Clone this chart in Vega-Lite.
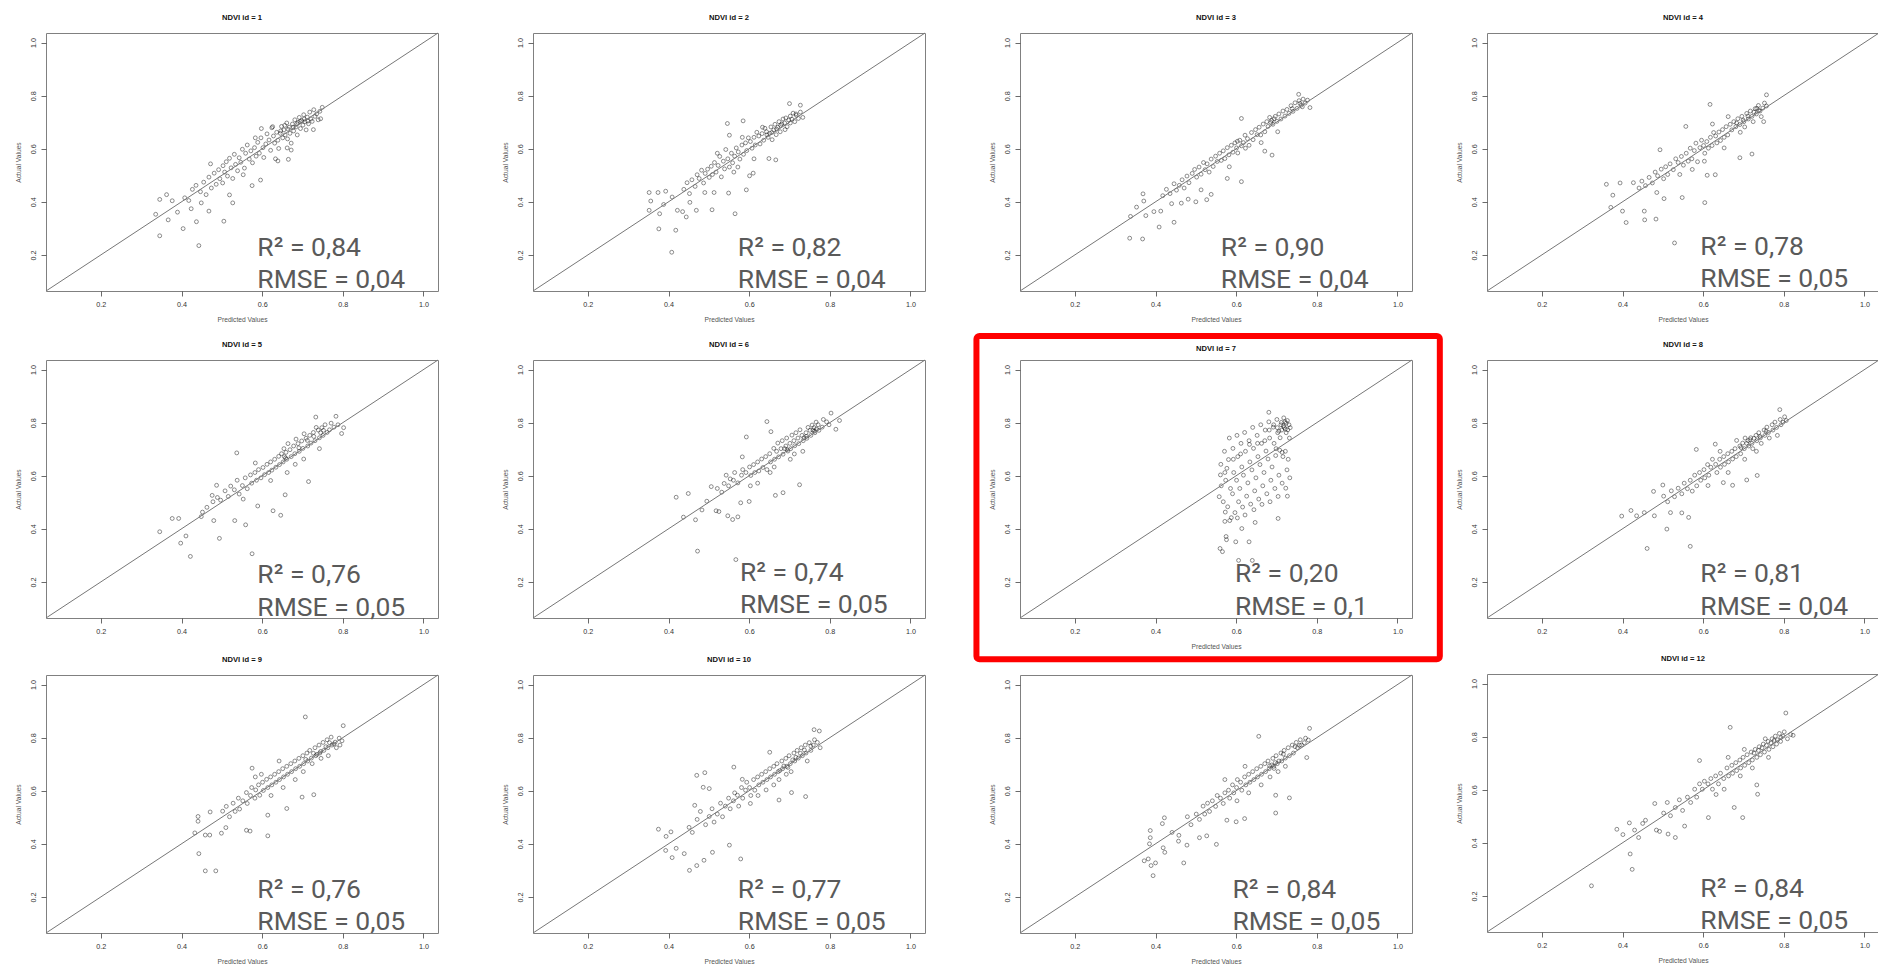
{
"$schema":"https://vega.github.io/schema/vega-lite/v6.json",
"background":"white",
"padding":{"left":14,"top":13,"right":0,"bottom":0},
"config":{
"view":{"stroke":"#808080","strokeWidth":1},
"axis":{"grid":false,"domain":false,"tickColor":"#444","tickSize":5,"tickWidth":0.8,"tickCount":5,"labelFont":"Liberation Sans","labelFontSize":7.2,"labelColor":"#333","labelPadding":4,"labelFlush":false,"labelOverlap":false,"titleFont":"Liberation Sans","titleFontSize":6.7,"titleFontWeight":"normal","titleColor":"#555"},
"axisX":{"titlePadding":9},
"axisY":{"labelAngle":270,"labelAlign":"center","labelBaseline":"bottom","titlePadding":8},
"title":{"font":"Liberation Sans","fontSize":7.6,"fontWeight":"bold","color":"#111","offset":11,"anchor":"middle"},
"point":{"filled":false,"size":15,"color":"#000","strokeWidth":0.9,"strokeOpacity":0.7},
"rule":{"color":"#777","strokeWidth":1},
"text":{"font":"Roboto","fontSize":26.5,"color":"#5a5a5a","align":"left","baseline":"alphabetic"}
},
"datasets":{
"labels":[{"id":1,"r2":"R² = 0,84","rmse":"RMSE = 0,04"},{"id":2,"r2":"R² = 0,82","rmse":"RMSE = 0,04"},{"id":3,"r2":"R² = 0,90","rmse":"RMSE = 0,04"},{"id":4,"r2":"R² = 0,78","rmse":"RMSE = 0,05"},{"id":5,"r2":"R² = 0,76","rmse":"RMSE = 0,05"},{"id":6,"r2":"R² = 0,74","rmse":"RMSE = 0,05"},{"id":7,"r2":"R² = 0,20","rmse":"RMSE = 0,1"},{"id":8,"r2":"R² = 0,81","rmse":"RMSE = 0,04"},{"id":9,"r2":"R² = 0,76","rmse":"RMSE = 0,05"},{"id":10,"r2":"R² = 0,77","rmse":"RMSE = 0,05"},{"id":11,"r2":"R² = 0,84","rmse":"RMSE = 0,05"},{"id":12,"r2":"R² = 0,84","rmse":"RMSE = 0,05"}],
"points":[
{"id":1,"pred":0.336,"actual":0.353},{"id":1,"pred":0.346,"actual":0.272},{"id":1,"pred":0.346,"actual":0.409},{"id":1,"pred":0.363,"actual":0.427},{"id":1,"pred":0.367,"actual":0.332},{"id":1,"pred":0.377,"actual":0.404},{"id":1,"pred":0.39,"actual":0.361},{"id":1,"pred":0.404,"actual":0.299},{"id":1,"pred":0.408,"actual":0.415},{"id":1,"pred":0.424,"actual":0.374},{"id":1,"pred":0.437,"actual":0.325},{"id":1,"pred":0.443,"actual":0.235},{"id":1,"pred":0.449,"actual":0.396},{"id":1,"pred":0.468,"actual":0.365},{"id":1,"pred":0.505,"actual":0.327},{"id":1,"pred":0.519,"actual":0.426},{"id":1,"pred":0.527,"actual":0.396},{"id":1,"pred":0.575,"actual":0.461},{"id":1,"pred":0.596,"actual":0.482},{"id":1,"pred":0.639,"actual":0.554},{"id":1,"pred":0.665,"actual":0.56},{"id":1,"pred":0.672,"actual":0.595},{"id":1,"pred":0.749,"actual":0.756},{"id":1,"pred":0.745,"actual":0.713},{"id":1,"pred":0.727,"actual":0.672},
{"id":1,"pred":0.418,"actual":0.405},{"id":1,"pred":0.427,"actual":0.447},{"id":1,"pred":0.436,"actual":0.462},{"id":1,"pred":0.447,"actual":0.438},{"id":1,"pred":0.455,"actual":0.474},{"id":1,"pred":0.461,"actual":0.427},{"id":1,"pred":0.468,"actual":0.493},{"id":1,"pred":0.474,"actual":0.452},{"id":1,"pred":0.481,"actual":0.508},{"id":1,"pred":0.486,"actual":0.466},{"id":1,"pred":0.492,"actual":0.521},{"id":1,"pred":0.495,"actual":0.487},{"id":1,"pred":0.503,"actual":0.536},{"id":1,"pred":0.507,"actual":0.512},{"id":1,"pred":0.511,"actual":0.551},{"id":1,"pred":0.514,"actual":0.497},{"id":1,"pred":0.519,"actual":0.564},{"id":1,"pred":0.523,"actual":0.528},{"id":1,"pred":0.527,"actual":0.488},{"id":1,"pred":0.531,"actual":0.579},{"id":1,"pred":0.534,"actual":0.541},{"id":1,"pred":0.539,"actual":0.517},{"id":1,"pred":0.543,"actual":0.566},{"id":1,"pred":0.547,"actual":0.549},{"id":1,"pred":0.551,"actual":0.598},{"id":1,"pred":0.556,"actual":0.527},{"id":1,"pred":0.559,"actual":0.583},{"id":1,"pred":0.563,"actual":0.614},{"id":1,"pred":0.568,"actual":0.561},{"id":1,"pred":0.572,"actual":0.592},{"id":1,"pred":0.576,"actual":0.547},{"id":1,"pred":0.581,"actual":0.604},{"id":1,"pred":0.585,"actual":0.572},{"id":1,"pred":0.589,"actual":0.624},{"id":1,"pred":0.593,"actual":0.583},{"id":1,"pred":0.597,"actual":0.641},{"id":1,"pred":0.602,"actual":0.604},{"id":1,"pred":0.604,"actual":0.567},{"id":1,"pred":0.609,"actual":0.618},{"id":1,"pred":0.612,"actual":0.656},{"id":1,"pred":0.617,"actual":0.633},{"id":1,"pred":0.621,"actual":0.594},{"id":1,"pred":0.624,"actual":0.679},{"id":1,"pred":0.628,"actual":0.648},{"id":1,"pred":0.631,"actual":0.621},{"id":1,"pred":0.636,"actual":0.662},{"id":1,"pred":0.639,"actual":0.632},{"id":1,"pred":0.641,"actual":0.601},{"id":1,"pred":0.645,"actual":0.658},{"id":1,"pred":0.648,"actual":0.684},{"id":1,"pred":0.651,"actual":0.641},{"id":1,"pred":0.654,"actual":0.671},{"id":1,"pred":0.657,"actual":0.652},{"id":1,"pred":0.661,"actual":0.697},{"id":1,"pred":0.663,"actual":0.637},{"id":1,"pred":0.667,"actual":0.681},{"id":1,"pred":0.669,"actual":0.658},{"id":1,"pred":0.672,"actual":0.621},{"id":1,"pred":0.675,"actual":0.693},{"id":1,"pred":0.678,"actual":0.667},{"id":1,"pred":0.681,"actual":0.709},{"id":1,"pred":0.684,"actual":0.682},{"id":1,"pred":0.687,"actual":0.652},{"id":1,"pred":0.689,"actual":0.699},{"id":1,"pred":0.692,"actual":0.718},{"id":1,"pred":0.695,"actual":0.676},{"id":1,"pred":0.698,"actual":0.706},{"id":1,"pred":0.701,"actual":0.689},{"id":1,"pred":0.703,"actual":0.728},{"id":1,"pred":0.706,"actual":0.702},{"id":1,"pred":0.709,"actual":0.671},{"id":1,"pred":0.712,"actual":0.719},{"id":1,"pred":0.715,"actual":0.694},{"id":1,"pred":0.718,"actual":0.738},{"id":1,"pred":0.721,"actual":0.712},{"id":1,"pred":0.724,"actual":0.703},{"id":1,"pred":0.728,"actual":0.747},{"id":1,"pred":0.731,"actual":0.722},{"id":1,"pred":0.735,"actual":0.731},{"id":1,"pred":0.739,"actual":0.709},{"id":1,"pred":0.743,"actual":0.741},{"id":1,"pred":0.626,"actual":0.683},{"id":1,"pred":0.583,"actual":0.641},{"id":1,"pred":0.553,"actual":0.502},{"id":1,"pred":0.472,"actual":0.543},{"id":1,"pred":0.502,"actual":0.471},{"id":1,"pred":0.633,"actual":0.562},{"id":1,"pred":0.662,"actual":0.603},{"id":1,"pred":0.598,"actual":0.676},{"id":1,"pred":0.656,"actual":0.688},{"id":1,"pred":0.664,"actual":0.674},{"id":1,"pred":0.686,"actual":0.694},{"id":1,"pred":0.694,"actual":0.703},{"id":1,"pred":0.704,"actual":0.712},{"id":1,"pred":0.677,"actual":0.681},{"id":1,"pred":0.713,"actual":0.704},{"id":1,"pred":0.646,"actual":0.667},
{"id":2,"pred":0.352,"actual":0.435},{"id":2,"pred":0.352,"actual":0.368},{"id":2,"pred":0.356,"actual":0.403},{"id":2,"pred":0.374,"actual":0.435},{"id":2,"pred":0.376,"actual":0.298},{"id":2,"pred":0.378,"actual":0.355},{"id":2,"pred":0.393,"actual":0.44},{"id":2,"pred":0.388,"actual":0.39},{"id":2,"pred":0.409,"actual":0.418},{"id":2,"pred":0.408,"actual":0.21},{"id":2,"pred":0.418,"actual":0.293},{"id":2,"pred":0.422,"actual":0.368},{"id":2,"pred":0.435,"actual":0.363},{"id":2,"pred":0.444,"actual":0.343},{"id":2,"pred":0.453,"actual":0.398},{"id":2,"pred":0.469,"actual":0.368},{"id":2,"pred":0.49,"actual":0.435},{"id":2,"pred":0.508,"actual":0.37},{"id":2,"pred":0.513,"actual":0.435},{"id":2,"pred":0.549,"actual":0.433},{"id":2,"pred":0.565,"actual":0.355},{"id":2,"pred":0.593,"actual":0.445},{"id":2,"pred":0.601,"actual":0.498},{"id":2,"pred":0.61,"actual":0.508},{"id":2,"pred":0.546,"actual":0.695},{"id":2,"pred":0.551,"actual":0.651},{"id":2,"pred":0.585,"actual":0.705},{"id":2,"pred":0.649,"actual":0.563},{"id":2,"pred":0.666,"actual":0.558},{"id":2,"pred":0.7,"actual":0.77},{"id":2,"pred":0.727,"actual":0.764},{"id":2,"pred":0.733,"actual":0.718},
{"id":2,"pred":0.438,"actual":0.447},{"id":2,"pred":0.446,"actual":0.472},{"id":2,"pred":0.452,"actual":0.431},{"id":2,"pred":0.458,"actual":0.483},{"id":2,"pred":0.466,"actual":0.458},{"id":2,"pred":0.471,"actual":0.502},{"id":2,"pred":0.476,"actual":0.488},{"id":2,"pred":0.482,"actual":0.519},{"id":2,"pred":0.487,"actual":0.471},{"id":2,"pred":0.491,"actual":0.507},{"id":2,"pred":0.497,"actual":0.523},{"id":2,"pred":0.501,"actual":0.492},{"id":2,"pred":0.506,"actual":0.534},{"id":2,"pred":0.509,"actual":0.503},{"id":2,"pred":0.514,"actual":0.548},{"id":2,"pred":0.518,"actual":0.512},{"id":2,"pred":0.523,"actual":0.537},{"id":2,"pred":0.527,"actual":0.571},{"id":2,"pred":0.531,"actual":0.494},{"id":2,"pred":0.536,"actual":0.553},{"id":2,"pred":0.539,"actual":0.524},{"id":2,"pred":0.542,"actual":0.597},{"id":2,"pred":0.547,"actual":0.562},{"id":2,"pred":0.551,"actual":0.531},{"id":2,"pred":0.556,"actual":0.583},{"id":2,"pred":0.559,"actual":0.547},{"id":2,"pred":0.564,"actual":0.572},{"id":2,"pred":0.568,"actual":0.603},{"id":2,"pred":0.573,"actual":0.588},{"id":2,"pred":0.577,"actual":0.561},{"id":2,"pred":0.582,"actual":0.614},{"id":2,"pred":0.586,"actual":0.579},{"id":2,"pred":0.591,"actual":0.622},{"id":2,"pred":0.594,"actual":0.593},{"id":2,"pred":0.598,"actual":0.641},{"id":2,"pred":0.603,"actual":0.627},{"id":2,"pred":0.607,"actual":0.602},{"id":2,"pred":0.612,"actual":0.643},{"id":2,"pred":0.615,"actual":0.614},{"id":2,"pred":0.619,"actual":0.662},{"id":2,"pred":0.624,"actual":0.648},{"id":2,"pred":0.627,"actual":0.618},{"id":2,"pred":0.632,"actual":0.657},{"id":2,"pred":0.636,"actual":0.632},{"id":2,"pred":0.639,"actual":0.677},{"id":2,"pred":0.643,"actual":0.664},{"id":2,"pred":0.647,"actual":0.643},{"id":2,"pred":0.651,"actual":0.658},{"id":2,"pred":0.654,"actual":0.682},{"id":2,"pred":0.657,"actual":0.634},{"id":2,"pred":0.661,"actual":0.671},{"id":2,"pred":0.664,"actual":0.692},{"id":2,"pred":0.667,"actual":0.653},{"id":2,"pred":0.671,"actual":0.681},{"id":2,"pred":0.674,"actual":0.702},{"id":2,"pred":0.677,"actual":0.664},{"id":2,"pred":0.681,"actual":0.693},{"id":2,"pred":0.684,"actual":0.712},{"id":2,"pred":0.688,"actual":0.697},{"id":2,"pred":0.691,"actual":0.716},{"id":2,"pred":0.694,"actual":0.683},{"id":2,"pred":0.698,"actual":0.708},{"id":2,"pred":0.702,"actual":0.723},{"id":2,"pred":0.706,"actual":0.711},{"id":2,"pred":0.709,"actual":0.734},{"id":2,"pred":0.713,"actual":0.702},{"id":2,"pred":0.717,"actual":0.726},{"id":2,"pred":0.722,"actual":0.714},{"id":2,"pred":0.727,"actual":0.738},{"id":2,"pred":0.583,"actual":0.643},{"id":2,"pred":0.562,"actual":0.512},{"id":2,"pred":0.612,"actual":0.562},{"id":2,"pred":0.633,"actual":0.681},{"id":2,"pred":0.521,"actual":0.583},{"id":2,"pred":0.572,"actual":0.531},{"id":2,"pred":0.689,"actual":0.672},{"id":2,"pred":0.656,"actual":0.661},{"id":2,"pred":0.668,"actual":0.674},{"id":2,"pred":0.702,"actual":0.697},{"id":2,"pred":0.644,"actual":0.652},{"id":2,"pred":0.678,"actual":0.688},{"id":2,"pred":0.716,"actual":0.731},
{"id":3,"pred":0.336,"actual":0.263},{"id":3,"pred":0.368,"actual":0.26},{"id":3,"pred":0.338,"actual":0.345},{"id":3,"pred":0.369,"actual":0.43},{"id":3,"pred":0.371,"actual":0.403},{"id":3,"pred":0.376,"actual":0.348},{"id":3,"pred":0.353,"actual":0.38},{"id":3,"pred":0.396,"actual":0.363},{"id":3,"pred":0.409,"actual":0.305},{"id":3,"pred":0.413,"actual":0.365},{"id":3,"pred":0.446,"actual":0.323},{"id":3,"pred":0.44,"actual":0.393},{"id":3,"pred":0.464,"actual":0.395},{"id":3,"pred":0.481,"actual":0.41},{"id":3,"pred":0.5,"actual":0.4},{"id":3,"pred":0.527,"actual":0.408},{"id":3,"pred":0.538,"actual":0.428},{"id":3,"pred":0.513,"actual":0.445},{"id":3,"pred":0.578,"actual":0.488},{"id":3,"pred":0.613,"actual":0.476},{"id":3,"pred":0.613,"actual":0.714},{"id":3,"pred":0.689,"actual":0.576},{"id":3,"pred":0.671,"actual":0.591},{"id":3,"pred":0.755,"actual":0.805},{"id":3,"pred":0.783,"actual":0.755},
{"id":3,"pred":0.418,"actual":0.423},{"id":3,"pred":0.427,"actual":0.447},{"id":3,"pred":0.436,"actual":0.431},{"id":3,"pred":0.446,"actual":0.468},{"id":3,"pred":0.452,"actual":0.444},{"id":3,"pred":0.459,"actual":0.462},{"id":3,"pred":0.466,"actual":0.483},{"id":3,"pred":0.471,"actual":0.452},{"id":3,"pred":0.478,"actual":0.497},{"id":3,"pred":0.483,"actual":0.472},{"id":3,"pred":0.491,"actual":0.507},{"id":3,"pred":0.497,"actual":0.522},{"id":3,"pred":0.502,"actual":0.493},{"id":3,"pred":0.508,"actual":0.531},{"id":3,"pred":0.513,"actual":0.504},{"id":3,"pred":0.519,"actual":0.548},{"id":3,"pred":0.523,"actual":0.521},{"id":3,"pred":0.528,"actual":0.543},{"id":3,"pred":0.533,"actual":0.512},{"id":3,"pred":0.538,"actual":0.561},{"id":3,"pred":0.543,"actual":0.533},{"id":3,"pred":0.549,"actual":0.572},{"id":3,"pred":0.553,"actual":0.552},{"id":3,"pred":0.559,"actual":0.583},{"id":3,"pred":0.563,"actual":0.556},{"id":3,"pred":0.568,"actual":0.592},{"id":3,"pred":0.572,"actual":0.563},{"id":3,"pred":0.578,"actual":0.604},{"id":3,"pred":0.582,"actual":0.577},{"id":3,"pred":0.588,"actual":0.613},{"id":3,"pred":0.592,"actual":0.587},{"id":3,"pred":0.597,"actual":0.622},{"id":3,"pred":0.601,"actual":0.603},{"id":3,"pred":0.604,"actual":0.584},{"id":3,"pred":0.609,"actual":0.632},{"id":3,"pred":0.613,"actual":0.611},{"id":3,"pred":0.618,"actual":0.623},{"id":3,"pred":0.622,"actual":0.651},{"id":3,"pred":0.628,"actual":0.638},{"id":3,"pred":0.632,"actual":0.613},{"id":3,"pred":0.638,"actual":0.661},{"id":3,"pred":0.642,"actual":0.634},{"id":3,"pred":0.648,"actual":0.672},{"id":3,"pred":0.652,"actual":0.653},{"id":3,"pred":0.657,"actual":0.681},{"id":3,"pred":0.661,"actual":0.652},{"id":3,"pred":0.667,"actual":0.693},{"id":3,"pred":0.671,"actual":0.664},{"id":3,"pred":0.676,"actual":0.702},{"id":3,"pred":0.679,"actual":0.684},{"id":3,"pred":0.683,"actual":0.718},{"id":3,"pred":0.688,"actual":0.707},{"id":3,"pred":0.691,"actual":0.692},{"id":3,"pred":0.697,"actual":0.722},{"id":3,"pred":0.701,"actual":0.703},{"id":3,"pred":0.706,"actual":0.731},{"id":3,"pred":0.711,"actual":0.712},{"id":3,"pred":0.716,"actual":0.742},{"id":3,"pred":0.721,"actual":0.723},{"id":3,"pred":0.726,"actual":0.748},{"id":3,"pred":0.731,"actual":0.733},{"id":3,"pred":0.736,"actual":0.762},{"id":3,"pred":0.741,"actual":0.741},{"id":3,"pred":0.746,"actual":0.773},{"id":3,"pred":0.751,"actual":0.752},{"id":3,"pred":0.756,"actual":0.781},{"id":3,"pred":0.761,"actual":0.764},{"id":3,"pred":0.766,"actual":0.787},{"id":3,"pred":0.771,"actual":0.772},{"id":3,"pred":0.777,"actual":0.783},{"id":3,"pred":0.662,"actual":0.623},{"id":3,"pred":0.703,"actual":0.664},{"id":3,"pred":0.583,"actual":0.532},{"id":3,"pred":0.686,"actual":0.699},{"id":3,"pred":0.694,"actual":0.713},{"id":3,"pred":0.739,"actual":0.751},{"id":3,"pred":0.758,"actual":0.771},{"id":3,"pred":0.764,"actual":0.758},{"id":3,"pred":0.623,"actual":0.602},{"id":3,"pred":0.603,"actual":0.628},
{"id":4,"pred":0.36,"actual":0.466},{"id":4,"pred":0.376,"actual":0.425},{"id":4,"pred":0.371,"actual":0.379},{"id":4,"pred":0.394,"actual":0.471},{"id":4,"pred":0.4,"actual":0.365},{"id":4,"pred":0.409,"actual":0.322},{"id":4,"pred":0.427,"actual":0.472},{"id":4,"pred":0.454,"actual":0.365},{"id":4,"pred":0.455,"actual":0.332},{"id":4,"pred":0.483,"actual":0.335},{"id":4,"pred":0.485,"actual":0.435},{"id":4,"pred":0.503,"actual":0.412},{"id":4,"pred":0.529,"actual":0.245},{"id":4,"pred":0.548,"actual":0.416},{"id":4,"pred":0.604,"actual":0.397},{"id":4,"pred":0.493,"actual":0.596},{"id":4,"pred":0.557,"actual":0.684},{"id":4,"pred":0.617,"actual":0.767},{"id":4,"pred":0.61,"actual":0.5},{"id":4,"pred":0.63,"actual":0.502},{"id":4,"pred":0.721,"actual":0.58},{"id":4,"pred":0.691,"actual":0.566},{"id":4,"pred":0.757,"actual":0.803},{"id":4,"pred":0.75,"actual":0.702},
{"id":4,"pred":0.441,"actual":0.452},{"id":4,"pred":0.448,"actual":0.478},{"id":4,"pred":0.457,"actual":0.461},{"id":4,"pred":0.466,"actual":0.492},{"id":4,"pred":0.474,"actual":0.471},{"id":4,"pred":0.481,"actual":0.512},{"id":4,"pred":0.487,"actual":0.498},{"id":4,"pred":0.496,"actual":0.523},{"id":4,"pred":0.502,"actual":0.487},{"id":4,"pred":0.507,"actual":0.532},{"id":4,"pred":0.512,"actual":0.503},{"id":4,"pred":0.518,"actual":0.543},{"id":4,"pred":0.526,"actual":0.521},{"id":4,"pred":0.532,"actual":0.562},{"id":4,"pred":0.538,"actual":0.548},{"id":4,"pred":0.546,"actual":0.571},{"id":4,"pred":0.551,"actual":0.538},{"id":4,"pred":0.558,"actual":0.583},{"id":4,"pred":0.563,"actual":0.553},{"id":4,"pred":0.568,"actual":0.602},{"id":4,"pred":0.572,"actual":0.562},{"id":4,"pred":0.578,"actual":0.593},{"id":4,"pred":0.582,"actual":0.621},{"id":4,"pred":0.586,"actual":0.551},{"id":4,"pred":0.592,"actual":0.604},{"id":4,"pred":0.596,"actual":0.632},{"id":4,"pred":0.601,"actual":0.612},{"id":4,"pred":0.604,"actual":0.583},{"id":4,"pred":0.609,"actual":0.627},{"id":4,"pred":0.613,"actual":0.602},{"id":4,"pred":0.618,"actual":0.643},{"id":4,"pred":0.622,"actual":0.612},{"id":4,"pred":0.626,"actual":0.661},{"id":4,"pred":0.631,"actual":0.648},{"id":4,"pred":0.634,"actual":0.622},{"id":4,"pred":0.639,"actual":0.663},{"id":4,"pred":0.643,"actual":0.631},{"id":4,"pred":0.648,"actual":0.672},{"id":4,"pred":0.652,"actual":0.643},{"id":4,"pred":0.657,"actual":0.683},{"id":4,"pred":0.661,"actual":0.652},{"id":4,"pred":0.667,"actual":0.692},{"id":4,"pred":0.671,"actual":0.671},{"id":4,"pred":0.676,"actual":0.702},{"id":4,"pred":0.681,"actual":0.683},{"id":4,"pred":0.686,"actual":0.713},{"id":4,"pred":0.691,"actual":0.691},{"id":4,"pred":0.696,"actual":0.722},{"id":4,"pred":0.701,"actual":0.702},{"id":4,"pred":0.703,"actual":0.682},{"id":4,"pred":0.708,"actual":0.733},{"id":4,"pred":0.712,"actual":0.712},{"id":4,"pred":0.717,"actual":0.742},{"id":4,"pred":0.721,"actual":0.722},{"id":4,"pred":0.724,"actual":0.702},{"id":4,"pred":0.729,"actual":0.751},{"id":4,"pred":0.732,"actual":0.731},{"id":4,"pred":0.737,"actual":0.763},{"id":4,"pred":0.741,"actual":0.742},{"id":4,"pred":0.744,"actual":0.721},{"id":4,"pred":0.748,"actual":0.753},{"id":4,"pred":0.752,"actual":0.772},{"id":4,"pred":0.757,"actual":0.761},{"id":4,"pred":0.573,"actual":0.522},{"id":4,"pred":0.603,"actual":0.553},{"id":4,"pred":0.652,"actual":0.603},{"id":4,"pred":0.542,"actual":0.503},{"id":4,"pred":0.623,"actual":0.693},{"id":4,"pred":0.662,"actual":0.721},{"id":4,"pred":0.692,"actual":0.662},{"id":4,"pred":0.711,"actual":0.723},{"id":4,"pred":0.726,"actual":0.738},{"id":4,"pred":0.738,"actual":0.744},{"id":4,"pred":0.683,"actual":0.697},{"id":4,"pred":0.699,"actual":0.708},{"id":4,"pred":0.733,"actual":0.752},
{"id":5,"pred":0.346,"actual":0.389},{"id":5,"pred":0.377,"actual":0.439},{"id":5,"pred":0.393,"actual":0.439},{"id":5,"pred":0.398,"actual":0.346},{"id":5,"pred":0.411,"actual":0.373},{"id":5,"pred":0.422,"actual":0.296},{"id":5,"pred":0.449,"actual":0.446},{"id":5,"pred":0.476,"actual":0.526},{"id":5,"pred":0.487,"actual":0.564},{"id":5,"pred":0.494,"actual":0.364},{"id":5,"pred":0.48,"actual":0.431},{"id":5,"pred":0.532,"actual":0.431},{"id":5,"pred":0.537,"actual":0.686},{"id":5,"pred":0.559,"actual":0.415},{"id":5,"pred":0.575,"actual":0.306},{"id":5,"pred":0.589,"actual":0.486},{"id":5,"pred":0.627,"actual":0.468},{"id":5,"pred":0.646,"actual":0.451},{"id":5,"pred":0.657,"actual":0.528},{"id":5,"pred":0.715,"actual":0.578},{"id":5,"pred":0.733,"actual":0.821},{"id":5,"pred":0.802,"actual":0.781},{"id":5,"pred":0.797,"actual":0.759},{"id":5,"pred":0.783,"actual":0.824},
{"id":5,"pred":0.452,"actual":0.463},{"id":5,"pred":0.463,"actual":0.481},{"id":5,"pred":0.478,"actual":0.502},{"id":5,"pred":0.489,"actual":0.518},{"id":5,"pred":0.497,"actual":0.508},{"id":5,"pred":0.508,"actual":0.543},{"id":5,"pred":0.516,"actual":0.522},{"id":5,"pred":0.522,"actual":0.561},{"id":5,"pred":0.531,"actual":0.547},{"id":5,"pred":0.538,"actual":0.583},{"id":5,"pred":0.543,"actual":0.531},{"id":5,"pred":0.551,"actual":0.563},{"id":5,"pred":0.558,"actual":0.592},{"id":5,"pred":0.563,"actual":0.551},{"id":5,"pred":0.571,"actual":0.603},{"id":5,"pred":0.574,"actual":0.572},{"id":5,"pred":0.582,"actual":0.612},{"id":5,"pred":0.586,"actual":0.583},{"id":5,"pred":0.591,"actual":0.623},{"id":5,"pred":0.597,"actual":0.592},{"id":5,"pred":0.602,"actual":0.631},{"id":5,"pred":0.606,"actual":0.604},{"id":5,"pred":0.612,"actual":0.643},{"id":5,"pred":0.616,"actual":0.612},{"id":5,"pred":0.621,"actual":0.652},{"id":5,"pred":0.624,"actual":0.621},{"id":5,"pred":0.631,"actual":0.662},{"id":5,"pred":0.634,"actual":0.632},{"id":5,"pred":0.641,"actual":0.673},{"id":5,"pred":0.643,"actual":0.642},{"id":5,"pred":0.648,"actual":0.683},{"id":5,"pred":0.652,"actual":0.652},{"id":5,"pred":0.654,"actual":0.702},{"id":5,"pred":0.659,"actual":0.688},{"id":5,"pred":0.661,"actual":0.662},{"id":5,"pred":0.664,"actual":0.721},{"id":5,"pred":0.669,"actual":0.698},{"id":5,"pred":0.672,"actual":0.672},{"id":5,"pred":0.678,"actual":0.712},{"id":5,"pred":0.681,"actual":0.683},{"id":5,"pred":0.684,"actual":0.738},{"id":5,"pred":0.689,"actual":0.721},{"id":5,"pred":0.692,"actual":0.692},{"id":5,"pred":0.698,"actual":0.731},{"id":5,"pred":0.701,"actual":0.703},{"id":5,"pred":0.704,"actual":0.758},{"id":5,"pred":0.709,"actual":0.741},{"id":5,"pred":0.713,"actual":0.712},{"id":5,"pred":0.718,"actual":0.752},{"id":5,"pred":0.721,"actual":0.723},{"id":5,"pred":0.727,"actual":0.763},{"id":5,"pred":0.731,"actual":0.732},{"id":5,"pred":0.734,"actual":0.782},{"id":5,"pred":0.739,"actual":0.772},{"id":5,"pred":0.742,"actual":0.743},{"id":5,"pred":0.748,"actual":0.781},{"id":5,"pred":0.751,"actual":0.752},{"id":5,"pred":0.756,"actual":0.792},{"id":5,"pred":0.761,"actual":0.763},{"id":5,"pred":0.767,"actual":0.773},{"id":5,"pred":0.771,"actual":0.798},{"id":5,"pred":0.778,"actual":0.783},{"id":5,"pred":0.788,"actual":0.792},{"id":5,"pred":0.621,"actual":0.582},{"id":5,"pred":0.662,"actual":0.612},{"id":5,"pred":0.703,"actual":0.663},{"id":5,"pred":0.583,"actual":0.648},{"id":5,"pred":0.553,"actual":0.512},{"id":5,"pred":0.742,"actual":0.702},{"id":5,"pred":0.682,"actual":0.643},{"id":5,"pred":0.655,"actual":0.672},{"id":5,"pred":0.658,"actual":0.667},{"id":5,"pred":0.745,"actual":0.762},{"id":5,"pred":0.752,"actual":0.771},{"id":5,"pred":0.712,"actual":0.733},{"id":5,"pred":0.728,"actual":0.748},{"id":5,"pred":0.691,"actual":0.705},
{"id":6,"pred":0.419,"actual":0.519},{"id":6,"pred":0.437,"actual":0.444},{"id":6,"pred":0.449,"actual":0.533},{"id":6,"pred":0.467,"actual":0.434},{"id":6,"pred":0.472,"actual":0.316},{"id":6,"pred":0.483,"actual":0.471},{"id":6,"pred":0.495,"actual":0.504},{"id":6,"pred":0.506,"actual":0.559},{"id":6,"pred":0.518,"actual":0.468},{"id":6,"pred":0.525,"actual":0.465},{"id":6,"pred":0.547,"actual":0.449},{"id":6,"pred":0.559,"actual":0.435},{"id":6,"pred":0.572,"actual":0.445},{"id":6,"pred":0.567,"actual":0.284},{"id":6,"pred":0.579,"actual":0.498},{"id":6,"pred":0.6,"actual":0.503},{"id":6,"pred":0.593,"actual":0.746},{"id":6,"pred":0.644,"actual":0.804},{"id":6,"pred":0.654,"actual":0.766},{"id":6,"pred":0.665,"actual":0.526},{"id":6,"pred":0.684,"actual":0.536},{"id":6,"pred":0.725,"actual":0.566},{"id":6,"pred":0.803,"actual":0.836},{"id":6,"pred":0.824,"actual":0.808},{"id":6,"pred":0.815,"actual":0.775},
{"id":6,"pred":0.521,"actual":0.552},{"id":6,"pred":0.532,"actual":0.538},{"id":6,"pred":0.538,"actual":0.571},{"id":6,"pred":0.543,"actual":0.602},{"id":6,"pred":0.549,"actual":0.562},{"id":6,"pred":0.553,"actual":0.588},{"id":6,"pred":0.561,"actual":0.583},{"id":6,"pred":0.564,"actual":0.612},{"id":6,"pred":0.572,"actual":0.573},{"id":6,"pred":0.581,"actual":0.602},{"id":6,"pred":0.584,"actual":0.623},{"id":6,"pred":0.592,"actual":0.612},{"id":6,"pred":0.601,"actual":0.633},{"id":6,"pred":0.604,"actual":0.601},{"id":6,"pred":0.611,"actual":0.642},{"id":6,"pred":0.614,"actual":0.612},{"id":6,"pred":0.621,"actual":0.652},{"id":6,"pred":0.624,"actual":0.618},{"id":6,"pred":0.631,"actual":0.663},{"id":6,"pred":0.634,"actual":0.631},{"id":6,"pred":0.641,"actual":0.672},{"id":6,"pred":0.644,"actual":0.623},{"id":6,"pred":0.651,"actual":0.683},{"id":6,"pred":0.653,"actual":0.652},{"id":6,"pred":0.661,"actual":0.703},{"id":6,"pred":0.663,"actual":0.662},{"id":6,"pred":0.668,"actual":0.692},{"id":6,"pred":0.671,"actual":0.723},{"id":6,"pred":0.673,"actual":0.671},{"id":6,"pred":0.679,"actual":0.702},{"id":6,"pred":0.682,"actual":0.732},{"id":6,"pred":0.684,"actual":0.681},{"id":6,"pred":0.691,"actual":0.712},{"id":6,"pred":0.693,"actual":0.742},{"id":6,"pred":0.696,"actual":0.693},{"id":6,"pred":0.701,"actual":0.722},{"id":6,"pred":0.703,"actual":0.702},{"id":6,"pred":0.706,"actual":0.753},{"id":6,"pred":0.711,"actual":0.732},{"id":6,"pred":0.713,"actual":0.713},{"id":6,"pred":0.716,"actual":0.762},{"id":6,"pred":0.721,"actual":0.742},{"id":6,"pred":0.723,"actual":0.721},{"id":6,"pred":0.726,"actual":0.773},{"id":6,"pred":0.731,"actual":0.752},{"id":6,"pred":0.734,"actual":0.732},{"id":6,"pred":0.741,"actual":0.762},{"id":6,"pred":0.743,"actual":0.741},{"id":6,"pred":0.746,"actual":0.782},{"id":6,"pred":0.751,"actual":0.771},{"id":6,"pred":0.753,"actual":0.752},{"id":6,"pred":0.756,"actual":0.791},{"id":6,"pred":0.761,"actual":0.781},{"id":6,"pred":0.763,"actual":0.762},{"id":6,"pred":0.766,"actual":0.802},{"id":6,"pred":0.771,"actual":0.792},{"id":6,"pred":0.773,"actual":0.771},{"id":6,"pred":0.781,"actual":0.783},{"id":6,"pred":0.784,"actual":0.812},{"id":6,"pred":0.792,"actual":0.803},{"id":6,"pred":0.798,"actual":0.792},{"id":6,"pred":0.733,"actual":0.692},{"id":6,"pred":0.702,"actual":0.662},{"id":6,"pred":0.652,"actual":0.612},{"id":6,"pred":0.621,"actual":0.572},{"id":6,"pred":0.603,"actual":0.562},{"id":6,"pred":0.583,"actual":0.671},{"id":6,"pred":0.662,"actual":0.633},{"id":6,"pred":0.712,"actual":0.682},{"id":6,"pred":0.758,"actual":0.772},{"id":6,"pred":0.762,"actual":0.768},{"id":6,"pred":0.767,"actual":0.776},{"id":6,"pred":0.742,"actual":0.748},{"id":6,"pred":0.736,"actual":0.743},{"id":6,"pred":0.688,"actual":0.702},{"id":6,"pred":0.694,"actual":0.698},
{"id":7,"pred":0.56,"actual":0.326},{"id":7,"pred":0.566,"actual":0.314},{"id":7,"pred":0.575,"actual":0.371},{"id":7,"pred":0.576,"actual":0.359},{"id":7,"pred":0.599,"actual":0.351},{"id":7,"pred":0.606,"actual":0.281},{"id":7,"pred":0.614,"actual":0.401},{"id":7,"pred":0.632,"actual":0.351},{"id":7,"pred":0.64,"actual":0.281},{"id":7,"pred":0.647,"actual":0.424},{"id":7,"pred":0.704,"actual":0.439},{"id":7,"pred":0.681,"actual":0.839},{"id":7,"pred":0.584,"actual":0.431},{"id":7,"pred":0.572,"actual":0.428},
{"id":7,"pred":0.561,"actual":0.603},{"id":7,"pred":0.563,"actual":0.562},{"id":7,"pred":0.558,"actual":0.521},{"id":7,"pred":0.562,"actual":0.643},{"id":7,"pred":0.571,"actual":0.692},{"id":7,"pred":0.574,"actual":0.583},{"id":7,"pred":0.568,"actual":0.502},{"id":7,"pred":0.573,"actual":0.463},{"id":7,"pred":0.577,"actual":0.628},{"id":7,"pred":0.583,"actual":0.742},{"id":7,"pred":0.581,"actual":0.661},{"id":7,"pred":0.586,"actual":0.552},{"id":7,"pred":0.579,"actual":0.483},{"id":7,"pred":0.588,"actual":0.442},{"id":7,"pred":0.592,"actual":0.703},{"id":7,"pred":0.594,"actual":0.612},{"id":7,"pred":0.591,"actual":0.532},{"id":7,"pred":0.597,"actual":0.461},{"id":7,"pred":0.602,"actual":0.752},{"id":7,"pred":0.604,"actual":0.672},{"id":7,"pred":0.601,"actual":0.583},{"id":7,"pred":0.606,"actual":0.502},{"id":7,"pred":0.603,"actual":0.441},{"id":7,"pred":0.612,"actual":0.722},{"id":7,"pred":0.614,"actual":0.633},{"id":7,"pred":0.609,"actual":0.552},{"id":7,"pred":0.616,"actual":0.482},{"id":7,"pred":0.621,"actual":0.763},{"id":7,"pred":0.623,"actual":0.692},{"id":7,"pred":0.618,"actual":0.602},{"id":7,"pred":0.626,"actual":0.523},{"id":7,"pred":0.622,"actual":0.452},{"id":7,"pred":0.632,"actual":0.732},{"id":7,"pred":0.634,"actual":0.652},{"id":7,"pred":0.629,"actual":0.573},{"id":7,"pred":0.636,"actual":0.493},{"id":7,"pred":0.641,"actual":0.782},{"id":7,"pred":0.643,"actual":0.703},{"id":7,"pred":0.639,"actual":0.622},{"id":7,"pred":0.646,"actual":0.543},{"id":7,"pred":0.644,"actual":0.472},{"id":7,"pred":0.652,"actual":0.752},{"id":7,"pred":0.654,"actual":0.672},{"id":7,"pred":0.649,"actual":0.592},{"id":7,"pred":0.656,"actual":0.512},{"id":7,"pred":0.661,"actual":0.792},{"id":7,"pred":0.663,"actual":0.722},{"id":7,"pred":0.659,"actual":0.642},{"id":7,"pred":0.666,"actual":0.562},{"id":7,"pred":0.664,"actual":0.492},{"id":7,"pred":0.672,"actual":0.772},{"id":7,"pred":0.674,"actual":0.693},{"id":7,"pred":0.669,"actual":0.612},{"id":7,"pred":0.676,"actual":0.532},{"id":7,"pred":0.681,"actual":0.803},{"id":7,"pred":0.683,"actual":0.742},{"id":7,"pred":0.679,"actual":0.663},{"id":7,"pred":0.686,"actual":0.583},{"id":7,"pred":0.684,"actual":0.502},{"id":7,"pred":0.692,"actual":0.783},{"id":7,"pred":0.694,"actual":0.722},{"id":7,"pred":0.689,"actual":0.633},{"id":7,"pred":0.696,"actual":0.552},{"id":7,"pred":0.701,"actual":0.812},{"id":7,"pred":0.703,"actual":0.762},{"id":7,"pred":0.699,"actual":0.702},{"id":7,"pred":0.706,"actual":0.602},{"id":7,"pred":0.704,"actual":0.522},{"id":7,"pred":0.711,"actual":0.792},{"id":7,"pred":0.713,"actual":0.772},{"id":7,"pred":0.709,"actual":0.743},{"id":7,"pred":0.716,"actual":0.672},{"id":7,"pred":0.714,"actual":0.572},{"id":7,"pred":0.721,"actual":0.803},{"id":7,"pred":0.719,"actual":0.782},{"id":7,"pred":0.724,"actual":0.762},{"id":7,"pred":0.722,"actual":0.692},{"id":7,"pred":0.726,"actual":0.622},{"id":7,"pred":0.723,"actual":0.553},{"id":7,"pred":0.731,"actual":0.792},{"id":7,"pred":0.728,"actual":0.773},{"id":7,"pred":0.732,"actual":0.742},{"id":7,"pred":0.729,"actual":0.662},{"id":7,"pred":0.733,"actual":0.592},{"id":7,"pred":0.727,"actual":0.523},{"id":7,"pred":0.693,"actual":0.792},{"id":7,"pred":0.702,"actual":0.781},{"id":7,"pred":0.712,"actual":0.801},{"id":7,"pred":0.718,"actual":0.818},{"id":7,"pred":0.727,"actual":0.808},{"id":7,"pred":0.682,"actual":0.772},{"id":7,"pred":0.671,"actual":0.732},{"id":7,"pred":0.653,"actual":0.722},{"id":7,"pred":0.633,"actual":0.718},{"id":7,"pred":0.611,"actual":0.682},{"id":7,"pred":0.593,"actual":0.662},{"id":7,"pred":0.572,"actual":0.612},{"id":7,"pred":0.717,"actual":0.788},{"id":7,"pred":0.722,"actual":0.776},{"id":7,"pred":0.706,"actual":0.768},{"id":7,"pred":0.724,"actual":0.798},{"id":7,"pred":0.734,"actual":0.781},{"id":7,"pred":0.708,"actual":0.696},{"id":7,"pred":0.698,"actual":0.676},{"id":7,"pred":0.714,"actual":0.688},
{"id":8,"pred":0.398,"actual":0.448},{"id":8,"pred":0.421,"actual":0.469},{"id":8,"pred":0.435,"actual":0.449},{"id":8,"pred":0.454,"actual":0.461},{"id":8,"pred":0.461,"actual":0.326},{"id":8,"pred":0.477,"actual":0.541},{"id":8,"pred":0.479,"actual":0.449},{"id":8,"pred":0.5,"actual":0.565},{"id":8,"pred":0.51,"actual":0.399},{"id":8,"pred":0.519,"actual":0.461},{"id":8,"pred":0.547,"actual":0.46},{"id":8,"pred":0.564,"actual":0.443},{"id":8,"pred":0.568,"actual":0.334},{"id":8,"pred":0.583,"actual":0.699},{"id":8,"pred":0.63,"actual":0.719},{"id":8,"pred":0.65,"actual":0.574},{"id":8,"pred":0.673,"actual":0.564},{"id":8,"pred":0.708,"actual":0.584},{"id":8,"pred":0.734,"actual":0.601},{"id":8,"pred":0.79,"actual":0.849},
{"id":8,"pred":0.502,"actual":0.523},{"id":8,"pred":0.512,"actual":0.502},{"id":8,"pred":0.521,"actual":0.543},{"id":8,"pred":0.529,"actual":0.521},{"id":8,"pred":0.538,"actual":0.553},{"id":8,"pred":0.547,"actual":0.532},{"id":8,"pred":0.553,"actual":0.572},{"id":8,"pred":0.561,"actual":0.551},{"id":8,"pred":0.568,"actual":0.583},{"id":8,"pred":0.573,"actual":0.542},{"id":8,"pred":0.579,"actual":0.602},{"id":8,"pred":0.584,"actual":0.562},{"id":8,"pred":0.591,"actual":0.612},{"id":8,"pred":0.594,"actual":0.583},{"id":8,"pred":0.602,"actual":0.623},{"id":8,"pred":0.604,"actual":0.592},{"id":8,"pred":0.611,"actual":0.642},{"id":8,"pred":0.614,"actual":0.602},{"id":8,"pred":0.619,"actual":0.632},{"id":8,"pred":0.623,"actual":0.662},{"id":8,"pred":0.631,"actual":0.643},{"id":8,"pred":0.634,"actual":0.612},{"id":8,"pred":0.641,"actual":0.662},{"id":8,"pred":0.643,"actual":0.632},{"id":8,"pred":0.651,"actual":0.672},{"id":8,"pred":0.653,"actual":0.643},{"id":8,"pred":0.661,"actual":0.683},{"id":8,"pred":0.663,"actual":0.652},{"id":8,"pred":0.671,"actual":0.692},{"id":8,"pred":0.673,"actual":0.663},{"id":8,"pred":0.679,"actual":0.702},{"id":8,"pred":0.682,"actual":0.672},{"id":8,"pred":0.691,"actual":0.712},{"id":8,"pred":0.693,"actual":0.683},{"id":8,"pred":0.698,"actual":0.723},{"id":8,"pred":0.702,"actual":0.702},{"id":8,"pred":0.704,"actual":0.742},{"id":8,"pred":0.711,"actual":0.732},{"id":8,"pred":0.713,"actual":0.712},{"id":8,"pred":0.718,"actual":0.743},{"id":8,"pred":0.721,"actual":0.722},{"id":8,"pred":0.723,"actual":0.702},{"id":8,"pred":0.731,"actual":0.752},{"id":8,"pred":0.733,"actual":0.732},{"id":8,"pred":0.738,"actual":0.762},{"id":8,"pred":0.742,"actual":0.743},{"id":8,"pred":0.744,"actual":0.722},{"id":8,"pred":0.751,"actual":0.772},{"id":8,"pred":0.753,"actual":0.752},{"id":8,"pred":0.758,"actual":0.783},{"id":8,"pred":0.762,"actual":0.763},{"id":8,"pred":0.764,"actual":0.742},{"id":8,"pred":0.771,"actual":0.792},{"id":8,"pred":0.773,"actual":0.772},{"id":8,"pred":0.778,"actual":0.802},{"id":8,"pred":0.782,"actual":0.782},{"id":8,"pred":0.784,"actual":0.752},{"id":8,"pred":0.791,"actual":0.812},{"id":8,"pred":0.793,"actual":0.792},{"id":8,"pred":0.798,"actual":0.802},{"id":8,"pred":0.802,"actual":0.822},{"id":8,"pred":0.806,"actual":0.808},{"id":8,"pred":0.662,"actual":0.612},{"id":8,"pred":0.703,"actual":0.662},{"id":8,"pred":0.642,"actual":0.692},{"id":8,"pred":0.612,"actual":0.563},{"id":8,"pred":0.732,"actual":0.692},{"id":8,"pred":0.683,"actual":0.733},{"id":8,"pred":0.716,"actual":0.736},{"id":8,"pred":0.726,"actual":0.741},{"id":8,"pred":0.741,"actual":0.748},{"id":8,"pred":0.708,"actual":0.722},{"id":8,"pred":0.756,"actual":0.768},{"id":8,"pred":0.694,"actual":0.706},
{"id":9,"pred":0.433,"actual":0.441},{"id":9,"pred":0.441,"actual":0.503},{"id":9,"pred":0.441,"actual":0.485},{"id":9,"pred":0.443,"actual":0.363},{"id":9,"pred":0.459,"actual":0.298},{"id":9,"pred":0.485,"actual":0.298},{"id":9,"pred":0.459,"actual":0.433},{"id":9,"pred":0.47,"actual":0.433},{"id":9,"pred":0.471,"actual":0.52},{"id":9,"pred":0.499,"actual":0.44},{"id":9,"pred":0.51,"actual":0.461},{"id":9,"pred":0.561,"actual":0.451},{"id":9,"pred":0.57,"actual":0.448},{"id":9,"pred":0.614,"actual":0.43},{"id":9,"pred":0.575,"actual":0.685},{"id":9,"pred":0.707,"actual":0.878},{"id":9,"pred":0.661,"actual":0.533},{"id":9,"pred":0.699,"actual":0.576},{"id":9,"pred":0.728,"actual":0.585},{"id":9,"pred":0.801,"actual":0.845},{"id":9,"pred":0.614,"actual":0.508},
{"id":9,"pred":0.502,"actual":0.523},{"id":9,"pred":0.511,"actual":0.541},{"id":9,"pred":0.519,"actual":0.502},{"id":9,"pred":0.528,"actual":0.553},{"id":9,"pred":0.533,"actual":0.522},{"id":9,"pred":0.541,"actual":0.572},{"id":9,"pred":0.544,"actual":0.531},{"id":9,"pred":0.552,"actual":0.562},{"id":9,"pred":0.561,"actual":0.593},{"id":9,"pred":0.563,"actual":0.552},{"id":9,"pred":0.571,"actual":0.582},{"id":9,"pred":0.574,"actual":0.612},{"id":9,"pred":0.582,"actual":0.572},{"id":9,"pred":0.584,"actual":0.603},{"id":9,"pred":0.591,"actual":0.622},{"id":9,"pred":0.594,"actual":0.583},{"id":9,"pred":0.601,"actual":0.632},{"id":9,"pred":0.603,"actual":0.601},{"id":9,"pred":0.598,"actual":0.662},{"id":9,"pred":0.611,"actual":0.643},{"id":9,"pred":0.614,"actual":0.612},{"id":9,"pred":0.621,"actual":0.652},{"id":9,"pred":0.624,"actual":0.622},{"id":9,"pred":0.631,"actual":0.662},{"id":9,"pred":0.634,"actual":0.632},{"id":9,"pred":0.641,"actual":0.672},{"id":9,"pred":0.643,"actual":0.642},{"id":9,"pred":0.651,"actual":0.683},{"id":9,"pred":0.653,"actual":0.652},{"id":9,"pred":0.661,"actual":0.692},{"id":9,"pred":0.663,"actual":0.662},{"id":9,"pred":0.671,"actual":0.702},{"id":9,"pred":0.673,"actual":0.672},{"id":9,"pred":0.681,"actual":0.712},{"id":9,"pred":0.683,"actual":0.683},{"id":9,"pred":0.691,"actual":0.722},{"id":9,"pred":0.693,"actual":0.692},{"id":9,"pred":0.701,"actual":0.732},{"id":9,"pred":0.703,"actual":0.702},{"id":9,"pred":0.711,"actual":0.742},{"id":9,"pred":0.713,"actual":0.712},{"id":9,"pred":0.718,"actual":0.752},{"id":9,"pred":0.722,"actual":0.723},{"id":9,"pred":0.724,"actual":0.702},{"id":9,"pred":0.731,"actual":0.762},{"id":9,"pred":0.733,"actual":0.732},{"id":9,"pred":0.741,"actual":0.772},{"id":9,"pred":0.743,"actual":0.742},{"id":9,"pred":0.746,"actual":0.722},{"id":9,"pred":0.751,"actual":0.782},{"id":9,"pred":0.753,"actual":0.752},{"id":9,"pred":0.761,"actual":0.792},{"id":9,"pred":0.763,"actual":0.762},{"id":9,"pred":0.764,"actual":0.732},{"id":9,"pred":0.771,"actual":0.802},{"id":9,"pred":0.773,"actual":0.772},{"id":9,"pred":0.781,"actual":0.783},{"id":9,"pred":0.784,"actual":0.762},{"id":9,"pred":0.791,"actual":0.798},{"id":9,"pred":0.793,"actual":0.772},{"id":9,"pred":0.798,"actual":0.788},{"id":9,"pred":0.622,"actual":0.582},{"id":9,"pred":0.652,"actual":0.612},{"id":9,"pred":0.682,"actual":0.642},{"id":9,"pred":0.583,"actual":0.652},{"id":9,"pred":0.702,"actual":0.672},{"id":9,"pred":0.642,"actual":0.712},{"id":9,"pred":0.736,"actual":0.737},{"id":9,"pred":0.745,"actual":0.748},{"id":9,"pred":0.758,"actual":0.766},{"id":9,"pred":0.727,"actual":0.741},{"id":9,"pred":0.767,"actual":0.781},{"id":9,"pred":0.778,"actual":0.776},{"id":9,"pred":0.708,"actual":0.718},
{"id":10,"pred":0.375,"actual":0.455},{"id":10,"pred":0.393,"actual":0.375},{"id":10,"pred":0.394,"actual":0.428},{"id":10,"pred":0.406,"actual":0.445},{"id":10,"pred":0.409,"actual":0.348},{"id":10,"pred":0.419,"actual":0.383},{"id":10,"pred":0.439,"actual":0.363},{"id":10,"pred":0.452,"actual":0.3},{"id":10,"pred":0.47,"actual":0.318},{"id":10,"pred":0.488,"actual":0.338},{"id":10,"pred":0.509,"actual":0.368},{"id":10,"pred":0.47,"actual":0.658},{"id":10,"pred":0.49,"actual":0.668},{"id":10,"pred":0.486,"actual":0.613},{"id":10,"pred":0.501,"actual":0.608},{"id":10,"pred":0.465,"actual":0.545},{"id":10,"pred":0.551,"actual":0.395},{"id":10,"pred":0.579,"actual":0.343},{"id":10,"pred":0.562,"actual":0.689},{"id":10,"pred":0.651,"actual":0.745},{"id":10,"pred":0.74,"actual":0.578},{"id":10,"pred":0.674,"actual":0.565},{"id":10,"pred":0.705,"actual":0.593},{"id":10,"pred":0.761,"actual":0.83},{"id":10,"pred":0.774,"actual":0.825},
{"id":10,"pred":0.451,"actual":0.462},{"id":10,"pred":0.459,"actual":0.443},{"id":10,"pred":0.471,"actual":0.492},{"id":10,"pred":0.479,"actual":0.522},{"id":10,"pred":0.492,"actual":0.472},{"id":10,"pred":0.501,"actual":0.503},{"id":10,"pred":0.508,"actual":0.532},{"id":10,"pred":0.513,"actual":0.482},{"id":10,"pred":0.521,"actual":0.512},{"id":10,"pred":0.529,"actual":0.553},{"id":10,"pred":0.534,"actual":0.502},{"id":10,"pred":0.541,"actual":0.542},{"id":10,"pred":0.549,"actual":0.572},{"id":10,"pred":0.553,"actual":0.532},{"id":10,"pred":0.561,"actual":0.562},{"id":10,"pred":0.564,"actual":0.592},{"id":10,"pred":0.571,"actual":0.583},{"id":10,"pred":0.574,"actual":0.542},{"id":10,"pred":0.581,"actual":0.612},{"id":10,"pred":0.584,"actual":0.572},{"id":10,"pred":0.591,"actual":0.602},{"id":10,"pred":0.594,"actual":0.632},{"id":10,"pred":0.601,"actual":0.612},{"id":10,"pred":0.604,"actual":0.582},{"id":10,"pred":0.611,"actual":0.642},{"id":10,"pred":0.614,"actual":0.602},{"id":10,"pred":0.621,"actual":0.652},{"id":10,"pred":0.624,"actual":0.622},{"id":10,"pred":0.631,"actual":0.662},{"id":10,"pred":0.634,"actual":0.632},{"id":10,"pred":0.641,"actual":0.672},{"id":10,"pred":0.644,"actual":0.642},{"id":10,"pred":0.651,"actual":0.683},{"id":10,"pred":0.653,"actual":0.652},{"id":10,"pred":0.661,"actual":0.692},{"id":10,"pred":0.663,"actual":0.662},{"id":10,"pred":0.669,"actual":0.702},{"id":10,"pred":0.672,"actual":0.672},{"id":10,"pred":0.674,"actual":0.642},{"id":10,"pred":0.681,"actual":0.712},{"id":10,"pred":0.683,"actual":0.683},{"id":10,"pred":0.691,"actual":0.722},{"id":10,"pred":0.693,"actual":0.692},{"id":10,"pred":0.699,"actual":0.732},{"id":10,"pred":0.702,"actual":0.702},{"id":10,"pred":0.704,"actual":0.672},{"id":10,"pred":0.711,"actual":0.742},{"id":10,"pred":0.713,"actual":0.712},{"id":10,"pred":0.719,"actual":0.752},{"id":10,"pred":0.722,"actual":0.723},{"id":10,"pred":0.729,"actual":0.762},{"id":10,"pred":0.732,"actual":0.732},{"id":10,"pred":0.739,"actual":0.772},{"id":10,"pred":0.741,"actual":0.742},{"id":10,"pred":0.744,"actual":0.712},{"id":10,"pred":0.749,"actual":0.781},{"id":10,"pred":0.753,"actual":0.752},{"id":10,"pred":0.759,"actual":0.772},{"id":10,"pred":0.762,"actual":0.792},{"id":10,"pred":0.769,"actual":0.782},{"id":10,"pred":0.776,"actual":0.762},{"id":10,"pred":0.622,"actual":0.582},{"id":10,"pred":0.661,"actual":0.622},{"id":10,"pred":0.603,"actual":0.552},{"id":10,"pred":0.642,"actual":0.603},{"id":10,"pred":0.583,"actual":0.643},{"id":10,"pred":0.692,"actual":0.662},{"id":10,"pred":0.676,"actual":0.676},{"id":10,"pred":0.686,"actual":0.693},{"id":10,"pred":0.696,"actual":0.688},{"id":10,"pred":0.708,"actual":0.716},{"id":10,"pred":0.727,"actual":0.741},{"id":10,"pred":0.737,"actual":0.753},{"id":10,"pred":0.753,"actual":0.768},{"id":10,"pred":0.716,"actual":0.726},
{"id":11,"pred":0.372,"actual":0.336},{"id":11,"pred":0.382,"actual":0.343},{"id":11,"pred":0.389,"actual":0.318},{"id":11,"pred":0.394,"actual":0.28},{"id":11,"pred":0.4,"actual":0.328},{"id":11,"pred":0.387,"actual":0.45},{"id":11,"pred":0.387,"actual":0.423},{"id":11,"pred":0.385,"actual":0.4},{"id":11,"pred":0.419,"actual":0.385},{"id":11,"pred":0.423,"actual":0.368},{"id":11,"pred":0.417,"actual":0.476},{"id":11,"pred":0.422,"actual":0.498},{"id":11,"pred":0.457,"actual":0.41},{"id":11,"pred":0.478,"actual":0.395},{"id":11,"pred":0.47,"actual":0.328},{"id":11,"pred":0.509,"actual":0.423},{"id":11,"pred":0.527,"actual":0.43},{"id":11,"pred":0.551,"actual":0.398},{"id":11,"pred":0.577,"actual":0.489},{"id":11,"pred":0.6,"actual":0.483},{"id":11,"pred":0.621,"actual":0.495},{"id":11,"pred":0.656,"actual":0.805},{"id":11,"pred":0.698,"actual":0.516},{"id":11,"pred":0.732,"actual":0.573},{"id":11,"pred":0.698,"actual":0.583},{"id":11,"pred":0.782,"actual":0.835},{"id":11,"pred":0.775,"actual":0.725},
{"id":11,"pred":0.441,"actual":0.443},{"id":11,"pred":0.458,"actual":0.432},{"id":11,"pred":0.479,"actual":0.502},{"id":11,"pred":0.488,"actual":0.472},{"id":11,"pred":0.501,"actual":0.512},{"id":11,"pred":0.509,"actual":0.492},{"id":11,"pred":0.518,"actual":0.542},{"id":11,"pred":0.522,"actual":0.512},{"id":11,"pred":0.529,"actual":0.553},{"id":11,"pred":0.534,"actual":0.522},{"id":11,"pred":0.541,"actual":0.562},{"id":11,"pred":0.549,"actual":0.541},{"id":11,"pred":0.553,"actual":0.582},{"id":11,"pred":0.561,"actual":0.572},{"id":11,"pred":0.568,"actual":0.552},{"id":11,"pred":0.572,"actual":0.592},{"id":11,"pred":0.581,"actual":0.602},{"id":11,"pred":0.584,"actual":0.572},{"id":11,"pred":0.591,"actual":0.622},{"id":11,"pred":0.594,"actual":0.592},{"id":11,"pred":0.601,"actual":0.612},{"id":11,"pred":0.603,"actual":0.642},{"id":11,"pred":0.611,"actual":0.632},{"id":11,"pred":0.614,"actual":0.602},{"id":11,"pred":0.621,"actual":0.652},{"id":11,"pred":0.624,"actual":0.622},{"id":11,"pred":0.631,"actual":0.662},{"id":11,"pred":0.634,"actual":0.632},{"id":11,"pred":0.641,"actual":0.672},{"id":11,"pred":0.644,"actual":0.642},{"id":11,"pred":0.651,"actual":0.683},{"id":11,"pred":0.653,"actual":0.652},{"id":11,"pred":0.661,"actual":0.692},{"id":11,"pred":0.663,"actual":0.662},{"id":11,"pred":0.671,"actual":0.702},{"id":11,"pred":0.673,"actual":0.672},{"id":11,"pred":0.679,"actual":0.712},{"id":11,"pred":0.682,"actual":0.683},{"id":11,"pred":0.684,"actual":0.652},{"id":11,"pred":0.691,"actual":0.722},{"id":11,"pred":0.693,"actual":0.692},{"id":11,"pred":0.699,"actual":0.732},{"id":11,"pred":0.702,"actual":0.702},{"id":11,"pred":0.704,"actual":0.672},{"id":11,"pred":0.711,"actual":0.742},{"id":11,"pred":0.713,"actual":0.712},{"id":11,"pred":0.719,"actual":0.752},{"id":11,"pred":0.722,"actual":0.723},{"id":11,"pred":0.729,"actual":0.762},{"id":11,"pred":0.732,"actual":0.732},{"id":11,"pred":0.739,"actual":0.772},{"id":11,"pred":0.742,"actual":0.742},{"id":11,"pred":0.749,"actual":0.782},{"id":11,"pred":0.752,"actual":0.762},{"id":11,"pred":0.759,"actual":0.792},{"id":11,"pred":0.762,"actual":0.772},{"id":11,"pred":0.769,"actual":0.781},{"id":11,"pred":0.772,"actual":0.798},{"id":11,"pred":0.779,"actual":0.791},{"id":11,"pred":0.602,"actual":0.562},{"id":11,"pred":0.631,"actual":0.592},{"id":11,"pred":0.662,"actual":0.622},{"id":11,"pred":0.622,"actual":0.692},{"id":11,"pred":0.572,"actual":0.642},{"id":11,"pred":0.722,"actual":0.692},{"id":11,"pred":0.688,"actual":0.697},{"id":11,"pred":0.697,"actual":0.706},{"id":11,"pred":0.706,"actual":0.712},{"id":11,"pred":0.694,"actual":0.684},{"id":11,"pred":0.717,"actual":0.738},{"id":11,"pred":0.746,"actual":0.766},{"id":11,"pred":0.757,"actual":0.771},{"id":11,"pred":0.683,"actual":0.694},
{"id":12,"pred":0.323,"actual":0.238},{"id":12,"pred":0.386,"actual":0.451},{"id":12,"pred":0.401,"actual":0.431},{"id":12,"pred":0.417,"actual":0.475},{"id":12,"pred":0.419,"actual":0.358},{"id":12,"pred":0.424,"actual":0.3},{"id":12,"pred":0.43,"actual":0.448},{"id":12,"pred":0.44,"actual":0.42},{"id":12,"pred":0.45,"actual":0.473},{"id":12,"pred":0.457,"actual":0.485},{"id":12,"pred":0.48,"actual":0.548},{"id":12,"pred":0.484,"actual":0.448},{"id":12,"pred":0.492,"actual":0.443},{"id":12,"pred":0.513,"actual":0.433},{"id":12,"pred":0.531,"actual":0.42},{"id":12,"pred":0.554,"actual":0.463},{"id":12,"pred":0.591,"actual":0.71},{"id":12,"pred":0.613,"actual":0.495},{"id":12,"pred":0.667,"actual":0.835},{"id":12,"pred":0.677,"actual":0.533},{"id":12,"pred":0.698,"actual":0.495},{"id":12,"pred":0.733,"actual":0.618},{"id":12,"pred":0.735,"actual":0.583},{"id":12,"pred":0.805,"actual":0.889},{"id":12,"pred":0.823,"actual":0.805},
{"id":12,"pred":0.502,"actual":0.512},{"id":12,"pred":0.511,"actual":0.552},{"id":12,"pred":0.519,"actual":0.502},{"id":12,"pred":0.531,"actual":0.533},{"id":12,"pred":0.541,"actual":0.562},{"id":12,"pred":0.549,"actual":0.522},{"id":12,"pred":0.561,"actual":0.572},{"id":12,"pred":0.569,"actual":0.552},{"id":12,"pred":0.579,"actual":0.602},{"id":12,"pred":0.584,"actual":0.572},{"id":12,"pred":0.591,"actual":0.622},{"id":12,"pred":0.598,"actual":0.602},{"id":12,"pred":0.603,"actual":0.632},{"id":12,"pred":0.612,"actual":0.622},{"id":12,"pred":0.619,"actual":0.642},{"id":12,"pred":0.623,"actual":0.602},{"id":12,"pred":0.631,"actual":0.652},{"id":12,"pred":0.638,"actual":0.622},{"id":12,"pred":0.643,"actual":0.662},{"id":12,"pred":0.651,"actual":0.642},{"id":12,"pred":0.659,"actual":0.682},{"id":12,"pred":0.663,"actual":0.652},{"id":12,"pred":0.671,"actual":0.692},{"id":12,"pred":0.673,"actual":0.662},{"id":12,"pred":0.681,"actual":0.702},{"id":12,"pred":0.683,"actual":0.672},{"id":12,"pred":0.691,"actual":0.712},{"id":12,"pred":0.693,"actual":0.682},{"id":12,"pred":0.699,"actual":0.722},{"id":12,"pred":0.703,"actual":0.692},{"id":12,"pred":0.709,"actual":0.732},{"id":12,"pred":0.713,"actual":0.702},{"id":12,"pred":0.719,"actual":0.742},{"id":12,"pred":0.722,"actual":0.712},{"id":12,"pred":0.729,"actual":0.752},{"id":12,"pred":0.733,"actual":0.722},{"id":12,"pred":0.739,"actual":0.762},{"id":12,"pred":0.742,"actual":0.732},{"id":12,"pred":0.749,"actual":0.772},{"id":12,"pred":0.752,"actual":0.742},{"id":12,"pred":0.754,"actual":0.792},{"id":12,"pred":0.761,"actual":0.782},{"id":12,"pred":0.763,"actual":0.752},{"id":12,"pred":0.771,"actual":0.792},{"id":12,"pred":0.773,"actual":0.762},{"id":12,"pred":0.779,"actual":0.802},{"id":12,"pred":0.782,"actual":0.772},{"id":12,"pred":0.789,"actual":0.812},{"id":12,"pred":0.792,"actual":0.782},{"id":12,"pred":0.798,"actual":0.802},{"id":12,"pred":0.801,"actual":0.818},{"id":12,"pred":0.809,"actual":0.792},{"id":12,"pred":0.817,"actual":0.808},{"id":12,"pred":0.652,"actual":0.602},{"id":12,"pred":0.692,"actual":0.652},{"id":12,"pred":0.722,"actual":0.682},{"id":12,"pred":0.632,"actual":0.582},{"id":12,"pred":0.762,"actual":0.722},{"id":12,"pred":0.662,"actual":0.722},{"id":12,"pred":0.702,"actual":0.752},{"id":12,"pred":0.746,"actual":0.758},{"id":12,"pred":0.757,"actual":0.767},{"id":12,"pred":0.768,"actual":0.776},{"id":12,"pred":0.776,"actual":0.786},{"id":12,"pred":0.784,"actual":0.788},{"id":12,"pred":0.737,"actual":0.748},{"id":12,"pred":0.726,"actual":0.738},{"id":12,"pred":0.793,"actual":0.797}
]},
"hconcat":[
{"vconcat":[
{"concat":[
{"width":392,"height":258,"title":"NDVI id = 1","layer":[
{"data":{"name":"points"},"transform":[{"filter":"datum.id==1"}],"mark":"point","encoding":{"x":{"field":"pred","type":"quantitative","scale":{"domain":[0.064,1.036],"nice":false},"axis":{"title":"Predicted Values"}},"y":{"field":"actual","type":"quantitative","scale":{"domain":[0.064,1.036],"nice":false},"axis":{"title":"Actual Values"}}}},
{"data":{"name":"labels"},"transform":[{"filter":"datum.id==1"}],"mark":"rule","encoding":{"x":{"datum":0.064},"y":{"datum":0.064},"x2":{"datum":1.036},"y2":{"datum":1.036}}},
{"data":{"name":"labels"},"transform":[{"filter":"datum.id==1"}],"mark":"text","encoding":{"x":{"datum":0.588},"y":{"datum":0.197},"text":{"field":"r2"}}},
{"data":{"name":"labels"},"transform":[{"filter":"datum.id==1"}],"mark":"text","encoding":{"x":{"datum":0.588},"y":{"datum":0.077},"text":{"field":"rmse"}}}]},
{"width":392,"height":258,"title":"NDVI id = 2","layer":[
{"data":{"name":"points"},"transform":[{"filter":"datum.id==2"}],"mark":"point","encoding":{"x":{"field":"pred","type":"quantitative","scale":{"domain":[0.064,1.036],"nice":false},"axis":{"title":"Predicted Values"}},"y":{"field":"actual","type":"quantitative","scale":{"domain":[0.064,1.036],"nice":false},"axis":{"title":"Actual Values"}}}},
{"data":{"name":"labels"},"transform":[{"filter":"datum.id==2"}],"mark":"rule","encoding":{"x":{"datum":0.064},"y":{"datum":0.064},"x2":{"datum":1.036},"y2":{"datum":1.036}}},
{"data":{"name":"labels"},"transform":[{"filter":"datum.id==2"}],"mark":"text","encoding":{"x":{"datum":0.572},"y":{"datum":0.197},"text":{"field":"r2"}}},
{"data":{"name":"labels"},"transform":[{"filter":"datum.id==2"}],"mark":"text","encoding":{"x":{"datum":0.572},"y":{"datum":0.077},"text":{"field":"rmse"}}}]},
{"width":392,"height":258,"title":"NDVI id = 3","layer":[
{"data":{"name":"points"},"transform":[{"filter":"datum.id==3"}],"mark":"point","encoding":{"x":{"field":"pred","type":"quantitative","scale":{"domain":[0.064,1.036],"nice":false},"axis":{"title":"Predicted Values"}},"y":{"field":"actual","type":"quantitative","scale":{"domain":[0.064,1.036],"nice":false},"axis":{"title":"Actual Values"}}}},
{"data":{"name":"labels"},"transform":[{"filter":"datum.id==3"}],"mark":"rule","encoding":{"x":{"datum":0.064},"y":{"datum":0.064},"x2":{"datum":1.036},"y2":{"datum":1.036}}},
{"data":{"name":"labels"},"transform":[{"filter":"datum.id==3"}],"mark":"text","encoding":{"x":{"datum":0.562},"y":{"datum":0.197},"text":{"field":"r2"}}},
{"data":{"name":"labels"},"transform":[{"filter":"datum.id==3"}],"mark":"text","encoding":{"x":{"datum":0.562},"y":{"datum":0.077},"text":{"field":"rmse"}}}]},
{"width":392,"height":258,"title":"NDVI id = 5","layer":[
{"data":{"name":"points"},"transform":[{"filter":"datum.id==5"}],"mark":"point","encoding":{"x":{"field":"pred","type":"quantitative","scale":{"domain":[0.064,1.036],"nice":false},"axis":{"title":null}},"y":{"field":"actual","type":"quantitative","scale":{"domain":[0.064,1.036],"nice":false},"axis":{"title":"Actual Values"}}}},
{"data":{"name":"labels"},"transform":[{"filter":"datum.id==5"}],"mark":"rule","encoding":{"x":{"datum":0.064},"y":{"datum":0.064},"x2":{"datum":1.036},"y2":{"datum":1.036}}},
{"data":{"name":"labels"},"transform":[{"filter":"datum.id==5"}],"mark":"text","encoding":{"x":{"datum":0.588},"y":{"datum":0.195},"text":{"field":"r2"}}},
{"data":{"name":"labels"},"transform":[{"filter":"datum.id==5"}],"mark":"text","encoding":{"x":{"datum":0.588},"y":{"datum":0.07},"text":{"field":"rmse"}}}]},
{"width":392,"height":258,"title":"NDVI id = 6","layer":[
{"data":{"name":"points"},"transform":[{"filter":"datum.id==6"}],"mark":"point","encoding":{"x":{"field":"pred","type":"quantitative","scale":{"domain":[0.064,1.036],"nice":false},"axis":{"title":null}},"y":{"field":"actual","type":"quantitative","scale":{"domain":[0.064,1.036],"nice":false},"axis":{"title":"Actual Values"}}}},
{"data":{"name":"labels"},"transform":[{"filter":"datum.id==6"}],"mark":"rule","encoding":{"x":{"datum":0.064},"y":{"datum":0.064},"x2":{"datum":1.036},"y2":{"datum":1.036}}},
{"data":{"name":"labels"},"transform":[{"filter":"datum.id==6"}],"mark":"text","encoding":{"x":{"datum":0.577},"y":{"datum":0.205},"text":{"field":"r2"}}},
{"data":{"name":"labels"},"transform":[{"filter":"datum.id==6"}],"mark":"text","encoding":{"x":{"datum":0.577},"y":{"datum":0.082},"text":{"field":"rmse"}}}]},
{"width":392,"height":258,"title":{"text":"NDVI id = 7","offset":-19},"layer":[
{"data":{"name":"points"},"transform":[{"filter":"datum.id==7"}],"mark":"point","encoding":{"x":{"field":"pred","type":"quantitative","scale":{"domain":[0.064,1.036],"nice":false},"axis":{"title":"Predicted Values"}},"y":{"field":"actual","type":"quantitative","scale":{"domain":[0.064,1.036],"nice":false},"axis":{"title":"Actual Values"}}}},
{"data":{"name":"labels"},"transform":[{"filter":"datum.id==7"}],"mark":"rule","encoding":{"x":{"datum":0.064},"y":{"datum":0.064},"x2":{"datum":1.036},"y2":{"datum":1.036}}},
{"data":{"name":"labels"},"transform":[{"filter":"datum.id==7"}],"mark":"text","encoding":{"x":{"datum":0.597},"y":{"datum":0.2},"text":{"field":"r2"}}},
{"data":{"name":"labels"},"transform":[{"filter":"datum.id==7"}],"mark":"text","encoding":{"x":{"datum":0.597},"y":{"datum":0.077},"text":{"field":"rmse"}}},
{"data":{"name":"labels"},"transform":[{"filter":"datum.id==7"}],"mark":{"type":"rect","filled":false,"stroke":"#ff0000","strokeWidth":6,"cornerRadius":3},"encoding":{"x":{"datum":-0.044},"x2":{"datum":1.105},"y":{"datum":-0.091},"y2":{"datum":1.126}}}]}
],"columns":3,"spacing":{"row":69,"column":95},"bounds":"flush"},
{"hconcat":[
{"width":392,"height":258,"title":"NDVI id = 9","layer":[
{"data":{"name":"points"},"transform":[{"filter":"datum.id==9"}],"mark":"point","encoding":{"x":{"field":"pred","type":"quantitative","scale":{"domain":[0.064,1.036],"nice":false},"axis":{"title":"Predicted Values"}},"y":{"field":"actual","type":"quantitative","scale":{"domain":[0.064,1.036],"nice":false},"axis":{"title":"Actual Values"}}}},
{"data":{"name":"labels"},"transform":[{"filter":"datum.id==9"}],"mark":"rule","encoding":{"x":{"datum":0.064},"y":{"datum":0.064},"x2":{"datum":1.036},"y2":{"datum":1.036}}},
{"data":{"name":"labels"},"transform":[{"filter":"datum.id==9"}],"mark":"text","encoding":{"x":{"datum":0.588},"y":{"datum":0.195},"text":{"field":"r2"}}},
{"data":{"name":"labels"},"transform":[{"filter":"datum.id==9"}],"mark":"text","encoding":{"x":{"datum":0.588},"y":{"datum":0.075},"text":{"field":"rmse"}}}]},
{"width":392,"height":258,"title":"NDVI id = 10","layer":[
{"data":{"name":"points"},"transform":[{"filter":"datum.id==10"}],"mark":"point","encoding":{"x":{"field":"pred","type":"quantitative","scale":{"domain":[0.064,1.036],"nice":false},"axis":{"title":"Predicted Values"}},"y":{"field":"actual","type":"quantitative","scale":{"domain":[0.064,1.036],"nice":false},"axis":{"title":"Actual Values"}}}},
{"data":{"name":"labels"},"transform":[{"filter":"datum.id==10"}],"mark":"rule","encoding":{"x":{"datum":0.064},"y":{"datum":0.064},"x2":{"datum":1.036},"y2":{"datum":1.036}}},
{"data":{"name":"labels"},"transform":[{"filter":"datum.id==10"}],"mark":"text","encoding":{"x":{"datum":0.572},"y":{"datum":0.195},"text":{"field":"r2"}}},
{"data":{"name":"labels"},"transform":[{"filter":"datum.id==10"}],"mark":"text","encoding":{"x":{"datum":0.572},"y":{"datum":0.075},"text":{"field":"rmse"}}}]},
{"width":392,"height":258,"layer":[
{"data":{"name":"points"},"transform":[{"filter":"datum.id==11"}],"mark":"point","encoding":{"x":{"field":"pred","type":"quantitative","scale":{"domain":[0.064,1.036],"nice":false},"axis":{"title":"Predicted Values"}},"y":{"field":"actual","type":"quantitative","scale":{"domain":[0.064,1.036],"nice":false},"axis":{"title":"Actual Values"}}}},
{"data":{"name":"labels"},"transform":[{"filter":"datum.id==11"}],"mark":"rule","encoding":{"x":{"datum":0.064},"y":{"datum":0.064},"x2":{"datum":1.036},"y2":{"datum":1.036}}},
{"data":{"name":"labels"},"transform":[{"filter":"datum.id==11"}],"mark":"text","encoding":{"x":{"datum":0.591},"y":{"datum":0.195},"text":{"field":"r2"}}},
{"data":{"name":"labels"},"transform":[{"filter":"datum.id==11"}],"mark":"text","encoding":{"x":{"datum":0.591},"y":{"datum":0.075},"text":{"field":"rmse"}}}]}
],"spacing":95,"bounds":"flush"}
],"spacing":-8},
{"vconcat":[
{"vconcat":[
{"width":392,"height":258,"title":"NDVI id = 4","layer":[
{"data":{"name":"points"},"transform":[{"filter":"datum.id==4"}],"mark":"point","encoding":{"x":{"field":"pred","type":"quantitative","scale":{"domain":[0.064,1.036],"nice":false},"axis":{"title":"Predicted Values"}},"y":{"field":"actual","type":"quantitative","scale":{"domain":[0.064,1.036],"nice":false},"axis":{"title":"Actual Values"}}}},
{"data":{"name":"labels"},"transform":[{"filter":"datum.id==4"}],"mark":"rule","encoding":{"x":{"datum":0.064},"y":{"datum":0.064},"x2":{"datum":1.036},"y2":{"datum":1.036}}},
{"data":{"name":"labels"},"transform":[{"filter":"datum.id==4"}],"mark":"text","encoding":{"x":{"datum":0.593},"y":{"datum":0.2},"text":{"field":"r2"}}},
{"data":{"name":"labels"},"transform":[{"filter":"datum.id==4"}],"mark":"text","encoding":{"x":{"datum":0.593},"y":{"datum":0.08},"text":{"field":"rmse"}}}]},
{"width":392,"height":258,"title":"NDVI id = 8","layer":[
{"data":{"name":"points"},"transform":[{"filter":"datum.id==8"}],"mark":"point","encoding":{"x":{"field":"pred","type":"quantitative","scale":{"domain":[0.064,1.036],"nice":false},"axis":{"title":null}},"y":{"field":"actual","type":"quantitative","scale":{"domain":[0.064,1.036],"nice":false},"axis":{"title":"Actual Values"}}}},
{"data":{"name":"labels"},"transform":[{"filter":"datum.id==8"}],"mark":"rule","encoding":{"x":{"datum":0.064},"y":{"datum":0.064},"x2":{"datum":1.036},"y2":{"datum":1.036}}},
{"data":{"name":"labels"},"transform":[{"filter":"datum.id==8"}],"mark":"text","encoding":{"x":{"datum":0.593},"y":{"datum":0.2},"text":{"field":"r2"}}},
{"data":{"name":"labels"},"transform":[{"filter":"datum.id==8"}],"mark":"text","encoding":{"x":{"datum":0.593},"y":{"datum":0.077},"text":{"field":"rmse"}}}]}
],"spacing":69,"bounds":"flush"},
{"width":392,"height":258,"title":"NDVI id = 12","layer":[
{"data":{"name":"points"},"transform":[{"filter":"datum.id==12"}],"mark":"point","encoding":{"x":{"field":"pred","type":"quantitative","scale":{"domain":[0.064,1.036],"nice":false},"axis":{"title":"Predicted Values"}},"y":{"field":"actual","type":"quantitative","scale":{"domain":[0.064,1.036],"nice":false},"axis":{"title":"Actual Values"}}}},
{"data":{"name":"labels"},"transform":[{"filter":"datum.id==12"}],"mark":"rule","encoding":{"x":{"datum":0.064},"y":{"datum":0.064},"x2":{"datum":1.036},"y2":{"datum":1.036}}},
{"data":{"name":"labels"},"transform":[{"filter":"datum.id==12"}],"mark":"text","encoding":{"x":{"datum":0.593},"y":{"datum":0.195},"text":{"field":"r2"}}},
{"data":{"name":"labels"},"transform":[{"filter":"datum.id==12"}],"mark":"text","encoding":{"x":{"datum":0.593},"y":{"datum":0.075},"text":{"field":"rmse"}}}]}
],"spacing":19}
],"spacing":11
}
